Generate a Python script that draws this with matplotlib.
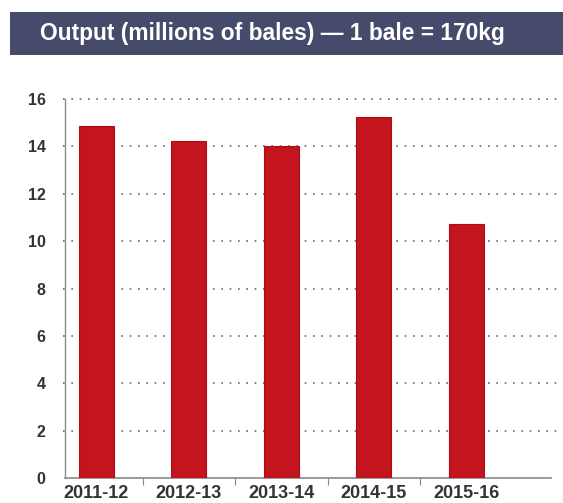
import matplotlib
matplotlib.use("Agg")
import matplotlib.pyplot as plt
from matplotlib.patches import Rectangle
from matplotlib.ticker import FixedLocator, NullFormatter

seasons = ["2011-12", "2012-13", "2013-14", "2014-15", "2015-16"]
output_bales = [14.87, 14.22, 14.02, 15.25, 10.74]
y_ticks = [0, 2, 4, 6, 8, 10, 12, 14, 16]
title = "Output (millions of bales) \u2014 1 bale = 170kg"

W, H = 563, 503
fig = plt.figure(figsize=(W / 100, H / 100), dpi=100)
fig.patch.set_facecolor("white")

# title banner
fig.patches.append(Rectangle((10 / W, 1 - 55 / H), 1 - 10 / W, 43 / H,
                             transform=fig.transFigure, facecolor="#474b6b",
                             edgecolor="none", zorder=0))
fig.text(272 / W, 1 - 33.5 / H, title, color="white", fontsize=16.4,
         fontweight="bold", family=["Liberation Sans", "DejaVu Sans"],
         ha="center", va="center")

ax = fig.add_axes([65 / W, 1 - 478 / H, (557 - 65) / W, (478 - 99) / H])
x = list(range(len(seasons)))
ax.bar(x, output_bales, width=0.38, color="#c4141d", edgecolor="#a80f16",
       linewidth=0.8, zorder=3)

ax.set_xlim(-0.34, 4.98)
ax.set_ylim(0, 16)

ax.set_yticks(y_ticks)
ax.set_yticklabels([str(v) for v in y_ticks])
for v in y_ticks[1:]:
    ax.axhline(v, xmin=-0.005, color="#666666", lw=1.2,
               linestyle=(0, (1, 4)), zorder=1, clip_on=False)

ax.set_xticks(x)
ax.set_xticklabels(seasons)
ax.tick_params(axis="x", length=0, pad=5)
ax.xaxis.set_minor_locator(FixedLocator([0.5, 1.5, 2.5, 3.5]))
ax.xaxis.set_minor_formatter(NullFormatter())
ax.tick_params(axis="x", which="minor", length=5, width=0.8, color="#888888",
               direction="out")
ax.tick_params(axis="y", length=0, pad=14)

label_font = dict(family=["Liberation Sans Narrow", "Liberation Sans", "DejaVu Sans"],
                  color="#333333", fontweight="bold")
for lab in ax.get_xticklabels():
    lab.set(fontsize=13, **label_font)
for lab in ax.get_yticklabels():
    lab.set(fontsize=11.5, **label_font)

for side in ("top", "right"):
    ax.spines[side].set_visible(False)
ax.spines["left"].set_color("#8a8a8a")
ax.spines["left"].set_linewidth(1.0)
ax.spines["bottom"].set_color("#8a8a8a")
ax.spines["bottom"].set_linewidth(1.2)
ax.spines["bottom"].set_bounds(-0.34, 4.92)

fig.savefig("out.png", dpi=100)
